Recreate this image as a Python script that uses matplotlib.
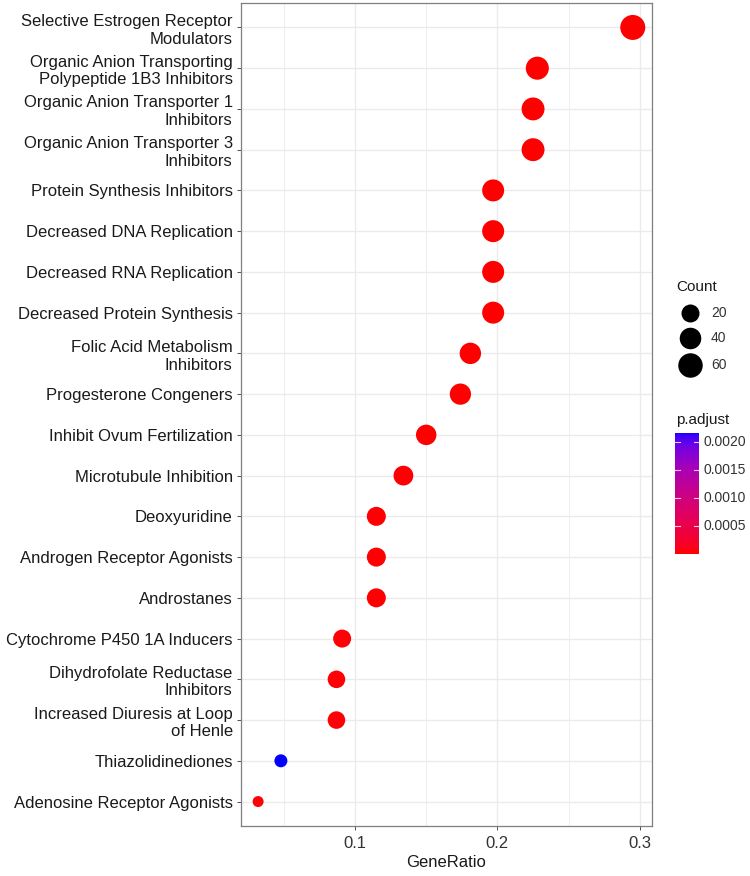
import numpy as np
import matplotlib
matplotlib.use("Agg")
import matplotlib.pyplot as plt
from matplotlib.colors import ListedColormap, Normalize

# ---- data -------------------------------------------------------------
terms = [
    "Selective Estrogen Receptor\nModulators",
    "Organic Anion Transporting\nPolypeptide 1B3 Inhibitors",
    "Organic Anion Transporter 1\nInhibitors",
    "Organic Anion Transporter 3\nInhibitors",
    "Protein Synthesis Inhibitors",
    "Decreased DNA Replication",
    "Decreased RNA Replication",
    "Decreased Protein Synthesis",
    "Folic Acid Metabolism\nInhibitors",
    "Progesterone Congeners",
    "Inhibit Ovum Fertilization",
    "Microtubule Inhibition",
    "Deoxyuridine",
    "Androgen Receptor Agonists",
    "Androstanes",
    "Cytochrome P450 1A Inducers",
    "Dihydrofolate Reductase\nInhibitors",
    "Increased Diuresis at Loop\nof Henle",
    "Thiazolidinediones",
    "Adenosine Receptor Agonists",
]
gene_ratio = [0.295, 0.228, 0.225, 0.225, 0.197, 0.197, 0.197, 0.197,
              0.181, 0.174, 0.150, 0.134, 0.115, 0.115, 0.115,
              0.091, 0.087, 0.087, 0.048, 0.032]
counts = [64, 50, 49, 49, 43, 43, 43, 43, 39, 38, 33, 29, 25, 25, 25,
          20, 19, 19, 10, 7]
p_adjust = [1e-5, 1e-5, 1e-5, 1e-5, 1.2e-5, 1.2e-5, 1.2e-5, 1.2e-5,
            1.5e-5, 1.5e-5, 1.8e-5, 2e-5, 2.5e-5, 2.5e-5, 2.5e-5,
            3e-5, 3e-5, 3e-5, 2.16e-3, 3.5e-5]
count_breaks = [20, 40, 60]
padj_breaks = [0.0005, 0.0010, 0.0015, 0.0020]

# ---- colour ramp red -> blue interpolated in CIELAB -------------------
def _srgb_to_lab(rgb):
    c = np.asarray(rgb, float)
    c = np.where(c <= 0.04045, c / 12.92, ((c + 0.055) / 1.055) ** 2.4)
    M = np.array([[0.4124, 0.3576, 0.1805],
                  [0.2126, 0.7152, 0.0722],
                  [0.0193, 0.1192, 0.9505]])
    xyz = M @ c / np.array([0.95047, 1.0, 1.08883])
    f = np.where(xyz > 0.008856, np.cbrt(xyz), 7.787 * xyz + 16 / 116)
    return np.array([116 * f[1] - 16, 500 * (f[0] - f[1]), 200 * (f[1] - f[2])])

def _lab_to_srgb(lab):
    L, a, b = lab
    fy = (L + 16) / 116
    fx = fy + a / 500
    fz = fy - b / 200
    f = np.array([fx, fy, fz])
    xyz = np.where(f ** 3 > 0.008856, f ** 3, (f - 16 / 116) / 7.787)
    xyz = xyz * np.array([0.95047, 1.0, 1.08883])
    Minv = np.array([[3.2406, -1.5372, -0.4986],
                     [-0.9689, 1.8758, 0.0415],
                     [0.0557, -0.2040, 1.0570]])
    c = Minv @ xyz
    c = np.where(c <= 0.0031308, 12.92 * c, 1.055 * np.clip(c, 0, None) ** (1 / 2.4) - 0.055)
    return np.clip(c, 0, 1)

lab_lo = _srgb_to_lab([1, 0, 0])
lab_hi = _srgb_to_lab([0, 0, 1])
ramp = [_lab_to_srgb(lab_lo + t * (lab_hi - lab_lo)) for t in np.linspace(0, 1, 256)]
cmap = ListedColormap(ramp)
norm = Normalize(vmin=min(p_adjust), vmax=max(p_adjust))

# ---- point size: diameter (px) grows with sqrt(count) -----------------
DPI = 100
def diam_px(c):
    return np.interp(np.sqrt(c), np.sqrt([7, 20, 43, 64]), [11, 18, 22, 25])

def marker_area(c):
    return (diam_px(np.asarray(c, float)) * 72 / DPI) ** 2

# ---- figure -----------------------------------------------------------
W, H = 750, 876
fig = plt.figure(figsize=(W / DPI, H / DPI), dpi=DPI)
plt.rcParams["font.family"] = ["Liberation Sans", "DejaVu Sans"]

def px_axes(x0, y0, x1, y1):
    return fig.add_axes([x0 / W, 1 - y1 / H, (x1 - x0) / W, (y1 - y0) / H])

ax = px_axes(241, 3, 652, 826)
n = len(terms)
ypos = np.arange(n)[::-1]

ax.set_xlim(0.020, 0.3085)
ax.set_ylim(-0.6, n - 1 + 0.6)
ax.set_xticks([0.1, 0.2, 0.3])
ax.set_xticklabels(["0.1", "0.2", "0.3"])
ax.set_xticks([0.05, 0.15, 0.25], minor=True)
ax.set_yticks(ypos)
ax.set_yticklabels(terms, fontsize=12, color="#1a1a1a", ha="right",
                   linespacing=1.22)
ax.tick_params(axis="x", which="major", length=3, width=0.6, color="#333333",
               labelsize=12, labelcolor="#333333", pad=4)
ax.tick_params(axis="x", which="minor", length=0)
ax.tick_params(axis="y", length=3, width=0.6, color="#333333", pad=3)

ax.grid(True, which="major", color="#ebebeb", linewidth=1.0)
ax.grid(True, which="minor", axis="x", color="#ebebeb", linewidth=0.6)
ax.set_axisbelow(True)
for s in ax.spines.values():
    s.set_color("#7f7f7f")
    s.set_linewidth(0.9)

ax.scatter(gene_ratio, ypos, s=marker_area(counts),
           c=p_adjust, cmap=cmap, norm=norm, linewidths=0, zorder=3)
ax.set_xlabel("GeneRatio", fontsize=12, color="#1a1a1a", labelpad=3)

# ---- legends drawn in a pixel-space overlay ---------------------------
ov = fig.add_axes([0, 0, 1, 1], facecolor="none")
ov.set_xlim(0, W)
ov.set_ylim(H, 0)
ov.axis("off")

ov.text(676, 287, "Count", fontsize=11, va="center", ha="left", color="#1a1a1a")
for k, yy in zip(count_breaks, [313, 338, 365]):
    ov.scatter([690], [yy], s=marker_area(k), color="black", linewidths=0)
    ov.text(711, yy, str(k), fontsize=10, va="center", ha="left", color="#333333")

ov.text(676, 420, "p.adjust", fontsize=11, va="center", ha="left", color="#1a1a1a")

cb_top, cb_bot, cb_l, cb_r = 433, 554, 675, 699
cax = px_axes(cb_l, cb_top, cb_r, cb_bot)
cb_lo, cb_hi = norm.vmin, norm.vmax
cax.imshow(np.linspace(cb_hi, cb_lo, 256)[:, None], aspect="auto",
           cmap=cmap, norm=norm, extent=[0, 1, cb_lo, cb_hi])
cax.set_ylim(cb_lo, cb_hi)
cax.set_xlim(0, 1)
cax.set_xticks([])
cax.set_yticks([])
for s in cax.spines.values():
    s.set_visible(False)
for b in padj_breaks:
    cax.plot([0, 0.2], [b, b], color="white", lw=0.8, alpha=0.8)
    cax.plot([0.8, 1], [b, b], color="white", lw=0.8, alpha=0.8)
    yy = cb_bot - (b - cb_lo) / (cb_hi - cb_lo) * (cb_bot - cb_top)
    ov.text(703, yy, f"{b:.4f}", fontsize=10, va="center", ha="left", color="#333333")

fig.savefig("out.png", dpi=DPI)
